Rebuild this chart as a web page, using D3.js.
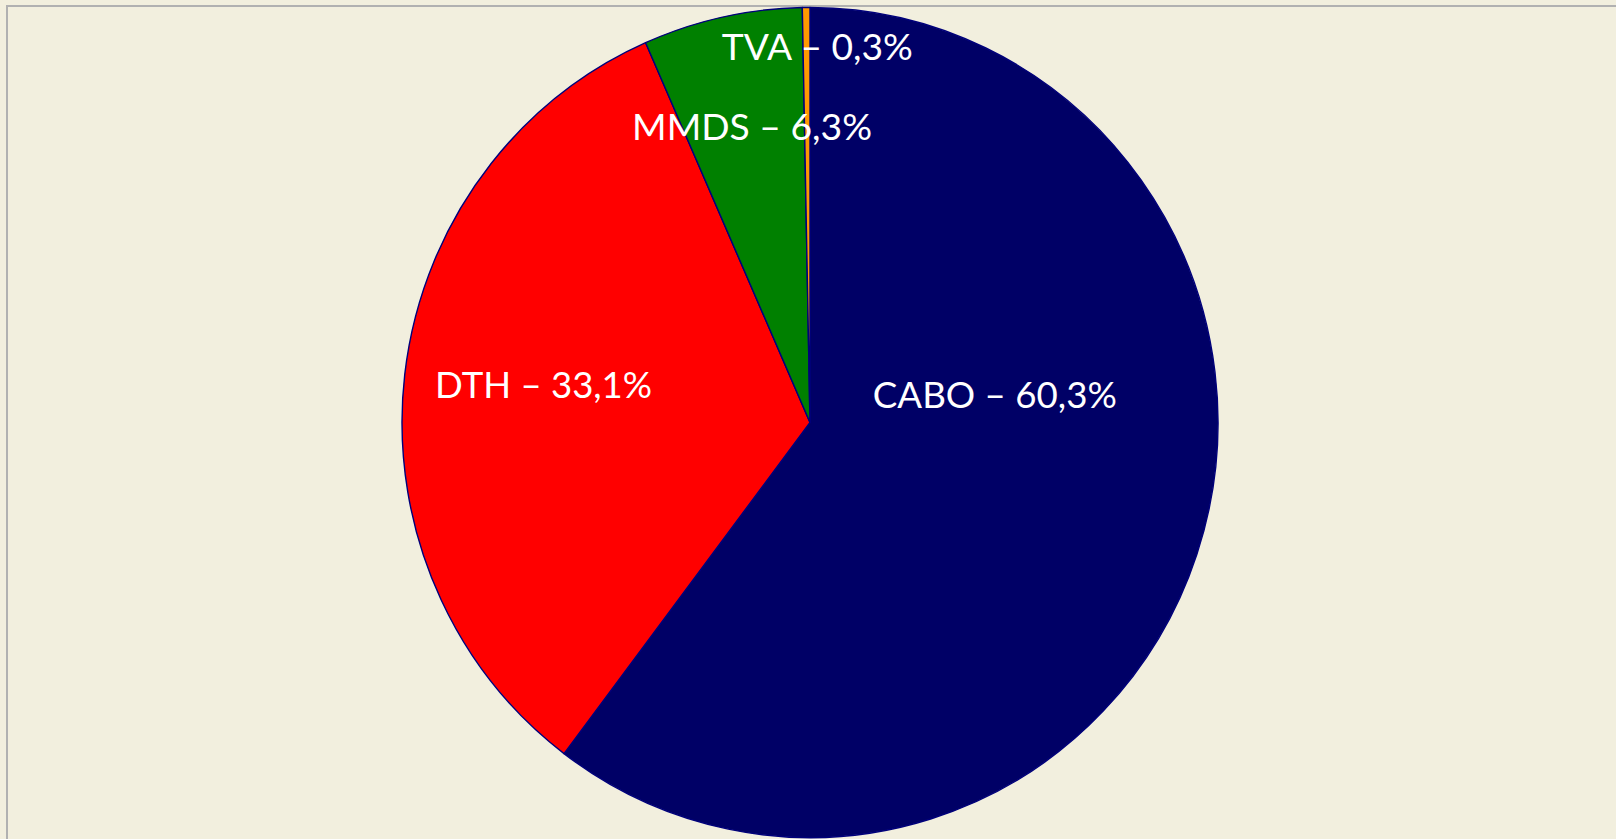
<!DOCTYPE html>
<html>
<head>
<meta charset="utf-8">
<script src="https://cdn.jsdelivr.net/npm/d3@7"></script>
<style>
  html, body { margin: 0; padding: 0; background: #F2EFDE; }
  svg { display: block; }
</style>
</head>
<body>
<svg id="chart" width="1616" height="839"></svg>
<script>
// ---- data ----
const categories = ["CABO", "DTH", "MMDS", "TVA"];
const values = [60.3, 33.1, 6.3, 0.3];
const labels = ["CABO – 60,3%", "DTH – 33,1%", "MMDS – 6,3%", "TVA – 0,3%"];
const colors = ["#000066", "#FF0000", "#008000", "#FF9900"];

// ---- layout ----
const W = 1616, H = 839;
const cx = 810, cy = 422.5, rx = 408, ry = 415;
// label anchors in radius units (Excel best-fit placement)
const labelAnchor = [[0.453, -0.066], [-0.653, -0.090], [-0.142, -0.711], [0.018, -0.905]];
const labelWidth = [244, 217, 240, 191];

const svg = d3.select("#chart");
svg.append("rect").attr("width", W).attr("height", H).attr("fill", "#F2EFDE");
svg.append("rect").attr("x", 7).attr("y", 6).attr("width", W + 50).attr("height", H + 50)
  .attr("fill", "#F2EFDE").attr("stroke", "#B1B1B1").attr("stroke-width", 2);

const data = categories.map((c, i) => ({ cat: c, value: values[i], label: labels[i], color: colors[i], i }));
const pie = d3.pie().value(d => d.value).sort(null);
const arc = d3.arc().innerRadius(0).outerRadius(rx);

const g = svg.append("g").attr("transform", `translate(${cx},${cy}) scale(1,${ry / rx})`);
g.selectAll("path").data(pie(data)).join("path")
  .attr("d", arc)
  .attr("fill", d => d.data.color)
  .attr("stroke", "#00007A")
  .attr("stroke-width", 1.4)
  .attr("stroke-linejoin", "round");

const sx = d3.scaleLinear().domain([-1, 1]).range([cx - rx, cx + rx]);
const sy = d3.scaleLinear().domain([-1, 1]).range([cy - ry, cy + ry]);

svg.append("g").selectAll("text").data(data).join("text")
  .attr("x", d => sx(labelAnchor[d.i][0]))
  .attr("y", d => sy(labelAnchor[d.i][1]) + 13)
  .attr("text-anchor", "middle")
  .attr("fill", "#FFFFFF")
  .attr("font-family", "Lato, 'Open Sans', sans-serif")
  .attr("font-size", 37)
  .attr("textLength", d => labelWidth[d.i])
  .attr("lengthAdjust", "spacingAndGlyphs")
  .text(d => d.label);
</script>
</body>
</html>
